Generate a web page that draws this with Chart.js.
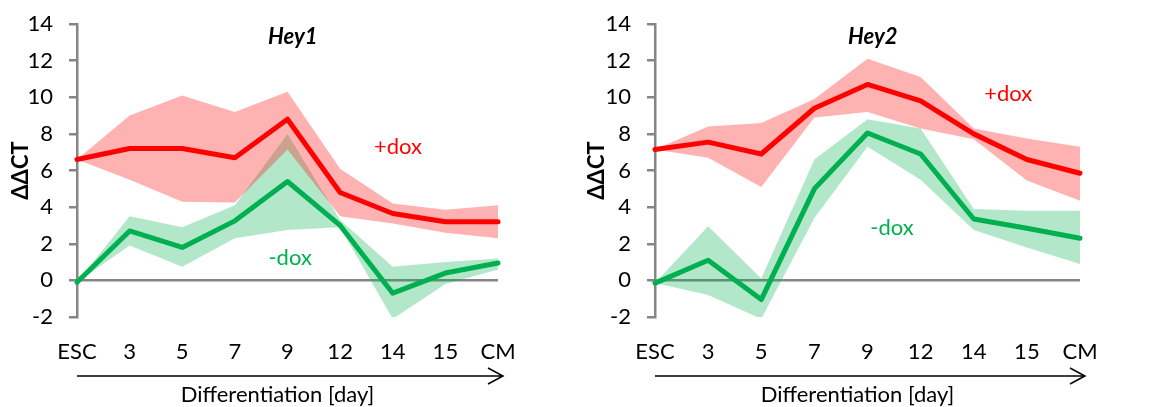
<!DOCTYPE html>
<html>
<head>
<meta charset="utf-8">
<script src="https://cdn.jsdelivr.net/npm/chart.js@4"></script>
<style>
  body { margin: 0; background: #fff; }
  .panel { position: absolute; top: 0; }
</style>
</head>
<body>
<div class="panel" style="left:0"><canvas id="hey1" width="576" height="407"></canvas></div>
<div class="panel" style="left:576px"><canvas id="hey2" width="577" height="407"></canvas></div>
<script>
const categories = ['ESC', '3', '5', '7', '9', '12', '14', '15', 'CM'];
const yTicks = [-2, 0, 2, 4, 6, 8, 10, 12, 14];

// Hey1
const hey1Dox      = [6.6, 7.2, 7.2, 6.7, 8.8, 4.8, 3.65, 3.2, 3.2];
const hey1DoxUpper = [6.6, 9.0, 10.1, 9.2, 10.3, 6.1, 4.2, 3.85, 4.1];
const hey1DoxLower = [6.6, 5.5, 4.3, 4.25, 7.15, 3.5, 3.1, 2.6, 2.3];
const hey1NoDox      = [-0.1, 2.7, 1.8, 3.25, 5.4, 3.0, -0.7, 0.4, 0.95];
const hey1NoDoxUpper = [-0.1, 3.5, 2.9, 4.1, 8.0, 3.3, 0.75, 1.0, 1.2];
const hey1NoDoxLower = [-0.1, 1.9, 0.75, 2.3, 2.75, 2.9, -2.1, -0.2, 0.6];

// Hey2
const hey2Dox      = [7.15, 7.55, 6.9, 9.4, 10.7, 9.8, 8.0, 6.6, 5.85];
const hey2DoxUpper = [7.15, 8.4, 8.6, 9.9, 12.1, 11.1, 8.3, 7.75, 7.3];
const hey2DoxLower = [7.15, 6.7, 5.1, 8.9, 9.2, 8.3, 7.7, 5.45, 4.35];
const hey2NoDox      = [-0.15, 1.1, -1.05, 5.0, 8.05, 6.9, 3.35, 2.85, 2.3];
const hey2NoDoxUpper = [-0.15, 2.95, 0.1, 6.6, 8.8, 8.3, 3.9, 3.8, 3.8];
const hey2NoDoxLower = [-0.15, -0.8, -2.1, 3.4, 7.3, 5.5, 2.75, 1.8, 0.9];

const FONT = 'Lato, "Open Sans", sans-serif';
const RED = '#ff0000';
const GREEN = '#00b050';
const AXIS = '#868686';

// text labels, title and arrow drawn on top
const decorations = {
  id: 'decorations',
  afterDatasetsDraw(chart, args, opts) {
    const { ctx, chartArea: a } = chart;
    const y = chart.scales.y;
    const xAt = i => a.left + (a.right - a.left) * i / (categories.length - 1);
    ctx.save();
    ctx.textAlign = 'center';
    ctx.textBaseline = 'middle';
    ctx.fillStyle = '#000';
    ctx.font = 'italic bold 22px ' + FONT;
    ctx.fillText(opts.title, xAt(4.1), y.getPixelForValue(13.3));
    ctx.font = '22px ' + FONT;
    ctx.fillStyle = RED;
    ctx.fillText('+dox', xAt(opts.plus[0]), y.getPixelForValue(opts.plus[1]));
    ctx.fillStyle = GREEN;
    ctx.fillText('-dox', xAt(opts.minus[0]), y.getPixelForValue(opts.minus[1]));

    // arrow
    const ay = 376, x0 = a.left, x1 = a.right + 5;
    ctx.strokeStyle = '#000';
    ctx.lineWidth = 1.5;
    ctx.beginPath();
    ctx.moveTo(x0, ay);
    ctx.lineTo(x1, ay);
    ctx.moveTo(x1 - 15, ay - 8);
    ctx.lineTo(x1, ay);
    ctx.lineTo(x1 - 15, ay + 8);
    ctx.stroke();

    ctx.fillStyle = '#000';
    ctx.font = '22px ' + FONT;
    ctx.fillText('Differentiation [day]', (a.left + a.right) / 2 - 10, 395);
    ctx.restore();
  }
};

function makeChart(id, title, dox, doxUp, doxLo, noDox, noUp, noLo, opts) {
  const line = (data, color, order) => ({
    data, borderColor: color, borderWidth: 5, pointRadius: 0,
    borderCapStyle: 'round', borderJoinStyle: 'round', fill: false, order, clip: false
  });
  const band = (data, color, target, order) => ({
    data, borderWidth: 0, borderColor: 'transparent', pointRadius: 0,
    backgroundColor: color, fill: target, order, clip: false
  });
  return new Chart(document.getElementById(id), {
    type: 'line',
    data: {
      labels: categories,
      datasets: [
        line(dox, RED, 0),                                // 0
        line(noDox, GREEN, 1),                            // 1
        band(doxUp, 'rgba(255,0,0,0.3)', 3, 3),           // 2
        band(doxLo, 'transparent', false, 3),             // 3
        band(noUp, 'rgba(0,176,80,0.3)', 5, 4),           // 4
        band(noLo, 'transparent', false, 4)               // 5
      ]
    },
    options: {
      responsive: false,
      animation: false,
      layout: { padding: { top: 24, right: opts.padRight, left: 0, bottom: 0 } },
      plugins: {
        legend: { display: false },
        tooltip: { enabled: false },
        decorations: { title, plus: opts.plus, minus: opts.minus }
      },
      scales: {
        x: {
          offset: false,
          grid: { display: false },
          border: { display: false },
          ticks: { color: '#000', font: { family: FONT, size: 22 }, padding: 14, maxRotation: 0, autoSkip: false },
          afterFit: s => { s.height = 90; }
        },
        y: {
          min: -2,
          max: 14,
          afterBuildTicks: s => { s.ticks = yTicks.map(v => ({ value: v })); },
          grid: {
            color: c => (c.tick && c.tick.value === 0 ? AXIS : 'transparent'),
            lineWidth: 2.5,
            tickColor: AXIS,
            tickLength: 8,
            drawOnChartArea: true
          },
          border: { display: true, color: AXIS, width: 2.5 },
          ticks: { color: '#000', font: { family: FONT, size: 22 }, padding: 16 },
          title: {
            display: true,
            text: 'ΔΔCT',
            color: '#000',
            font: { family: FONT, size: 22, weight: 'bold' },
            padding: { top: 8, bottom: 0 }
          },
          afterFit: s => {
            s.width = opts.axisWidth;
            s.paddingTop = 0;
            s.paddingBottom = 0;
          }
        }
      }
    },
    plugins: [decorations]
  });
}

makeChart('hey1', 'Hey1', hey1Dox, hey1DoxUpper, hey1DoxLower, hey1NoDox, hey1NoDoxUpper, hey1NoDoxLower,
  { padRight: 78, axisWidth: 77, plus: [6.1, 7.3], minus: [4.05, 1.2] });
makeChart('hey2', 'Hey2', hey2Dox, hey2DoxUpper, hey2DoxLower, hey2NoDox, hey2NoDoxUpper, hey2NoDoxLower,
  { padRight: 73, axisWidth: 79, plus: [6.65, 10.2], minus: [4.46, 2.85] });
</script>
</body>
</html>
